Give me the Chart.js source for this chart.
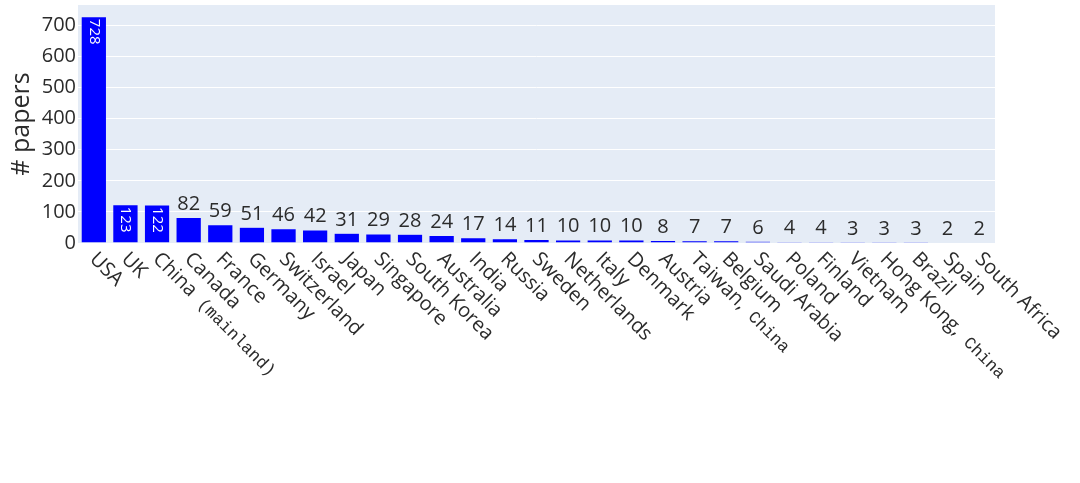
<!DOCTYPE html>
<html>
<head>
<meta charset="utf-8">
<script src="https://cdn.jsdelivr.net/npm/chart.js@4"></script>
<style>
  html, body { margin: 0; padding: 0; background: #fff; }
  #wrap { width: 1080px; height: 483px; }
</style>
</head>
<body>
<div id="wrap"><canvas id="chart" width="1080" height="483"></canvas></div>
<script>
// Data
const countries = ["USA", "UK", "China (mainland)", "Canada", "France", "Germany", "Switzerland", "Israel",
  "Japan", "Singapore", "South Korea", "Australia", "India", "Russia", "Sweden", "Netherlands", "Italy",
  "Denmark", "Austria", "Taiwan, China", "Belgium", "Saudi Arabia", "Poland", "Finland", "Vietnam",
  "Hong Kong, China", "Brazil", "Spain", "South Africa"];
const papers = [728, 123, 122, 82, 59, 51, 46, 42, 31, 29, 28, 24, 17, 14, 11, 10, 10, 10, 8, 7, 7, 6, 4, 4, 3, 3, 3, 2, 2];
const yTicks = [0, 100, 200, 300, 400, 500, 600, 700];

const FONT = "'Open Sans', sans-serif";
const MONO = "'Liberation Mono', 'DejaVu Sans Mono', monospace";
const TEXT = "#2b2b2b";

// plot background
const bgPlugin = {
  id: "bg",
  beforeDraw(chart) {
    const { ctx, chartArea: a } = chart;
    ctx.save();
    ctx.fillStyle = "#E5ECF6";
    ctx.fillRect(a.left, a.top, a.right - a.left, a.bottom - a.top);
    ctx.restore();
  }
};

// rotated category labels + bar value labels
const labelPlugin = {
  id: "labels",
  afterDraw(chart) {
    const { ctx, chartArea: a } = chart;
    const xs = chart.scales.x;
    const meta = chart.getDatasetMeta(0);
    ctx.save();

    // category labels, 45deg
    countries.forEach((name, i) => {
      const x = xs.getPixelForTick(i);
      let main = name, extra = "";
      const k = name.search(/ \(|, /);
      if (k >= 0) {
        if (name[k] === ",") { main = name.slice(0, k + 1); extra = name.slice(k + 1); }
        else { main = name.slice(0, k); extra = name.slice(k); }
      }
      ctx.save();
      ctx.translate(x - 1, a.bottom + 13);
      ctx.rotate(Math.PI / 4);
      ctx.fillStyle = TEXT;
      ctx.textAlign = "left";
      ctx.textBaseline = "middle";
      ctx.font = "20px " + FONT;
      ctx.fillText(main, 0, 0);
      if (extra) {
        const w = ctx.measureText(main).width;
        ctx.font = "17px " + MONO;
        ctx.fillText(extra, w, 1);
      }
      ctx.restore();
    });

    // value labels
    meta.data.forEach((bar, i) => {
      const txt = String(papers[i]);
      const h = bar.base - bar.y;
      if (h > 35) {
        ctx.save();
        ctx.translate(bar.x, bar.y + 2);
        ctx.rotate(Math.PI / 2);
        ctx.fillStyle = "#fff";
        ctx.font = "15px " + FONT;
        ctx.textAlign = "left";
        ctx.textBaseline = "middle";
        ctx.fillText(txt, 0, 0);
        ctx.restore();
      } else {
        ctx.fillStyle = TEXT;
        ctx.font = "20px " + FONT;
        ctx.textAlign = "center";
        ctx.textBaseline = "alphabetic";
        ctx.fillText(txt, bar.x, bar.y - 7.5);
      }
    });
    ctx.restore();
  }
};

new Chart(document.getElementById("chart"), {
  type: "bar",
  data: {
    labels: countries,
    datasets: [{
      data: papers,
      backgroundColor: "#0000FF",
      borderColor: "#E5ECF6",
      borderWidth: 0.5,
      barPercentage: 0.8,
      categoryPercentage: 1
    }]
  },
  options: {
    responsive: false,
    animation: false,
    layout: { padding: { top: 5, right: 85, left: 0, bottom: 0 } },
    plugins: { legend: { display: false }, tooltip: { enabled: false } },
    scales: {
      x: {
        ticks: { display: false },
        grid: { display: false },
        border: { display: false },
        afterFit(scale) { scale.height = 240; scale.paddingLeft = 0; scale.paddingRight = 0; }
      },
      y: {
        min: 0,
        max: 766,
        afterFit(scale) { scale.width = 78; scale.paddingTop = 0; scale.paddingBottom = 0; },
        afterBuildTicks(scale) { scale.ticks = yTicks.map(v => ({ value: v })); },
        ticks: {
          color: TEXT,
          font: { family: FONT, size: 20 },
          padding: 2
        },
        grid: { color: "#fff", lineWidth: 1, drawTicks: false },
        border: { display: false },
        title: {
          display: true,
          text: "# papers",
          color: TEXT,
          font: { family: FONT, size: 25 },
          padding: { top: 7, bottom: 0 }
        }
      }
    }
  },
  plugins: [bgPlugin, labelPlugin]
});
</script>
</body>
</html>
